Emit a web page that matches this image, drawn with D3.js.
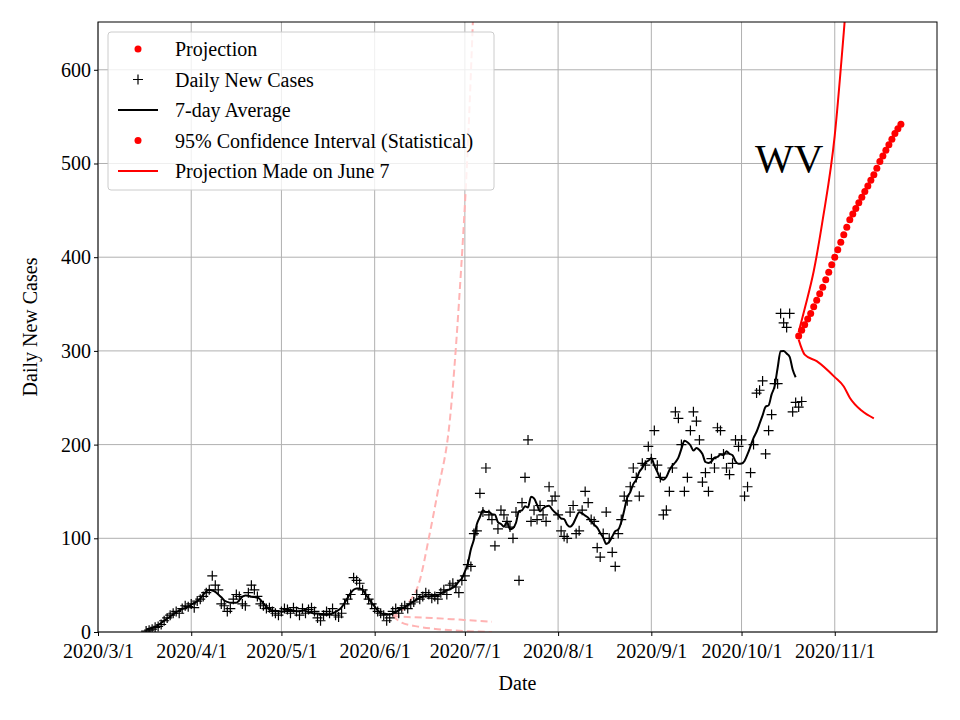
<!DOCTYPE html>
<html>
<head>
<meta charset="utf-8">
<script src="https://cdn.jsdelivr.net/npm/d3@7"></script>
<style>
body { margin: 0; background: #fff; }
text { font-family: "Liberation Serif", "DejaVu Serif", serif; }
</style>
</head>
<body>
<svg id="chart" width="960" height="720"></svg>
<script>
//Daily new cases, starting 2020/3/17
const DAILY_START = "2020-03-17";
const dailyCases = [
	1,2,3,5,6,8,12,15,18,20,22,20,25,28,27,
	30,26,33,35,38,42,45,60,50,45,30,28,22,25,35,40,38,30,28,42,50,45,38,30,28,25,26,22,20,18,
	22,25,24,20,26,22,18,25,20,24,26,22,15,12,18,22,20,25,18,16,20,30,35,40,58,55,52,45,40,35,30,
	25,22,20,18,12,15,22,25,20,26,28,25,30,32,40,35,38,42,40,36,38,35,42,45,40,50,52,48,42,55,
	60,72,70,105,108,148,128,175,125,120,92,110,130,125,118,112,100,128,55,138,165,205,118,130,120,135,125,118,155,140,145,
	125,108,102,100,128,135,105,108,130,150,138,120,118,90,80,105,128,100,85,70,105,120,145,140,155,175,165,145,180,178,198,
	185,215,178,165,125,130,150,175,235,228,200,150,165,215,235,225,205,160,170,150,185,175,218,215,190,175,168,180,205,198,
	205,145,155,170,200,255,258,268,190,215,232,265,265,340,330,325,340,235,245,240,246
];

//Projection, starting 2020/10/20
const PROJ_START = "2020-10-20";
const projection = [316,322,328,334,340,347,354,361,368,376,384,392,
	400,408,416,424,432,440,446,452,458,464,470,476,482,488,495,502,508,514,520,526,532,537,542];

//95% CI (statistical)
const ciUpper = [["2020-10-20",320],["2020-10-22",345],["2020-10-25",385],["2020-10-28",440],["2020-11-01",530],["2020-11-04",640],["2020-11-06",720]];
const ciLower = [["2020-10-20",312],["2020-10-22",296],["2020-10-26",289],["2020-11-01",272],["2020-11-04",262],["2020-11-06",250],["2020-11-10",236],["2020-11-14",228]];

//Projection made on June 7
const juneUpper = [["2020-06-07",17],["2020-06-12",30],["2020-06-16",55],["2020-06-19",100],["2020-06-22",150],["2020-06-26",226],["2020-06-29",350],["2020-07-02",520],["2020-07-04",680]];
const juneMid = [["2020-06-07",17],["2020-06-12",16],["2020-06-20",15],["2020-06-30",13],["2020-07-10",11]];
const juneLower = [["2020-06-07",17],["2020-06-10",10],["2020-06-15",6],["2020-06-22",3],["2020-07-01",1],["2020-07-10",0]];

const X_TICKS = ["2020-03-01","2020-04-01","2020-05-01","2020-06-01","2020-07-01","2020-08-01","2020-09-01","2020-10-01","2020-11-01"];
const Y_TICKS = [0,100,200,300,400,500,600];

//////////////////////////////////////////////////
const parse = d3.utcParse("%Y-%m-%d");
const fmt = d3.utcFormat("%Y/%-m/%-d");
const L = 98, R = 937, T = 22, B = 632;

const svg = d3.select("#chart");
const x = d3.scaleUtc().domain([parse("2020-03-01"), parse("2020-12-05")]).range([L, R]);
const y = d3.scaleLinear().domain([0, 651]).range([B, T]);

const dayOf = (start, i) => d3.utcDay.offset(parse(start), i);
const daily = dailyCases.map((v, i) => [dayOf(DAILY_START, i), v]);
const avg = daily.map((d, i) => [d[0], d3.mean(dailyCases.slice(Math.max(0, i - 3), i + 4))]).slice(0, daily.length - 2);
const proj = projection.map((v, i) => [dayOf(PROJ_START, i), v]);
const toPts = arr => arr.map(d => [parse(d[0]), d[1]]);

svg.append("defs").append("clipPath").attr("id", "clip")
	.append("rect").attr("x", L).attr("y", T).attr("width", R - L).attr("height", B - T);

//Grid
svg.append("g").selectAll("line").data(X_TICKS).join("line")
	.attr("x1", d => x(parse(d))).attr("x2", d => x(parse(d))).attr("y1", T).attr("y2", B)
	.attr("stroke", "#b0b0b0").attr("stroke-width", 1);
svg.append("g").selectAll("line").data(Y_TICKS).join("line")
	.attr("y1", d => y(d)).attr("y2", d => y(d)).attr("x1", L).attr("x2", R)
	.attr("stroke", "#b0b0b0").attr("stroke-width", 1);

const plot = svg.append("g").attr("clip-path", "url(#clip)");
const line = d3.line().x(d => x(d[0])).y(d => y(d[1])).curve(d3.curveMonotoneX);

//June 7 projection
[juneUpper, juneMid, juneLower].forEach(arr => {
	plot.append("path").attr("d", line(toPts(arr)))
		.attr("fill", "none").attr("stroke", "#ffb3b3").attr("stroke-width", 2)
		.attr("stroke-dasharray", "7,4");
});

//Daily cases
plot.append("g").selectAll("path").data(daily).join("path")
	.attr("d", d => `M${x(d[0]) - 5},${y(d[1])}h10M${x(d[0])},${y(d[1]) - 5}v10`)
	.attr("stroke", "#000").attr("stroke-width", 1.2);

//7-day average
plot.append("path").attr("d", line(avg))
	.attr("fill", "none").attr("stroke", "#000").attr("stroke-width", 2);

//CI
[ciUpper, ciLower].forEach(arr => {
	plot.append("path").attr("d", line(toPts(arr)))
		.attr("fill", "none").attr("stroke", "red").attr("stroke-width", 2);
});

//Projection dots
plot.append("g").selectAll("circle").data(proj).join("circle")
	.attr("cx", d => x(d[0])).attr("cy", d => y(d[1])).attr("r", 3.5).attr("fill", "red");

//Axes
svg.append("rect").attr("x", L).attr("y", T).attr("width", R - L).attr("height", B - T)
	.attr("fill", "none").attr("stroke", "#000").attr("stroke-width", 1);

svg.append("g").attr("transform", `translate(0,${B})`)
	.call(d3.axisBottom(x).tickValues(X_TICKS.map(parse)).tickFormat(fmt).tickSizeOuter(0).tickSize(4))
	.call(g => g.select(".domain").remove())
	.selectAll("text").attr("font-size", 20).attr("fill", "#000").attr("font-family", "Liberation Serif").attr("dy", "0.95em");
svg.append("g").attr("transform", `translate(${L},0)`)
	.call(d3.axisLeft(y).tickValues(Y_TICKS).tickSizeOuter(0).tickSize(4))
	.call(g => g.select(".domain").remove())
	.selectAll("text").attr("font-size", 20).attr("fill", "#000").attr("font-family", "Liberation Serif");

svg.append("text").attr("x", (L + R) / 2).attr("y", 690).attr("text-anchor", "middle")
	.attr("font-size", 20).text("Date");
svg.append("text").attr("transform", `translate(37,${(T + B) / 2}) rotate(-90)`).attr("text-anchor", "middle")
	.attr("font-size", 20).text("Daily New Cases");

svg.append("text").attr("x", 755).attr("y", 172).attr("font-size", 41).text("WV");

//Legend
const lg = svg.append("g").attr("transform", "translate(108,32)");
lg.append("rect").attr("width", 386).attr("height", 158).attr("rx", 3)
	.attr("fill", "#fff").attr("fill-opacity", 0.8).attr("stroke", "#ccc");
const items = [
	{label: "Projection", type: "dot"},
	{label: "Daily New Cases", type: "plus"},
	{label: "7-day Average", type: "line", color: "#000"},
	{label: "95% Confidence Interval (Statistical)", type: "dot"},
	{label: "Projection Made on June 7", type: "line", color: "red"}
];
items.forEach((it, i) => {
	const cy = 17 + i * 30.5;
	const g = lg.append("g").attr("transform", `translate(0,${cy})`);
	if (it.type === "dot") g.append("circle").attr("cx", 30).attr("r", 3.5).attr("fill", "red");
	if (it.type === "plus") g.append("path").attr("d", "M25,0h10M30,-5v10").attr("stroke", "#000").attr("stroke-width", 1.2);
	if (it.type === "line") g.append("line").attr("x1", 10).attr("x2", 50).attr("stroke", it.color).attr("stroke-width", 2);
	g.append("text").attr("x", 67).attr("y", 7).attr("font-size", 20).text(it.label);
});
</script>
</body>
</html>
